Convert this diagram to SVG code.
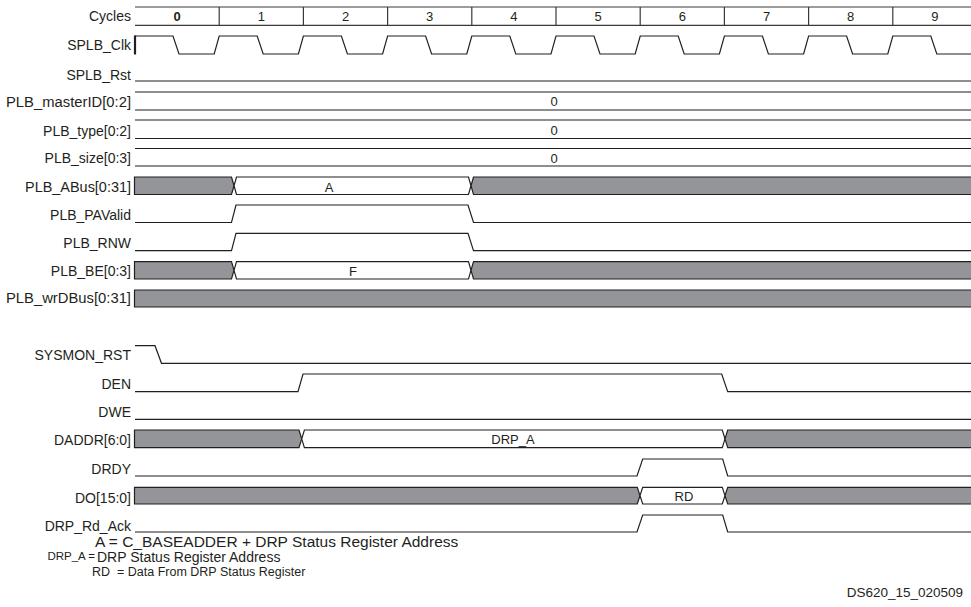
<svg xmlns="http://www.w3.org/2000/svg" width="971" height="607" viewBox="0 0 971 607">
<style>
  .lbl{font-family:"Liberation Sans",Arial,Helvetica,sans-serif;font-size:14px;fill:#231f20;text-anchor:end}
  .num{font-family:"Liberation Sans",Arial,Helvetica,sans-serif;font-size:13px;fill:#231f20;text-anchor:middle}
  .val{font-family:"Liberation Sans",Arial,Helvetica,sans-serif;font-size:13px;fill:#231f20;text-anchor:middle}
  .leg{font-family:"Liberation Sans",Arial,Helvetica,sans-serif;fill:#231f20}
  .w{fill:none;stroke:#231f20;stroke-width:1.2;stroke-linejoin:miter}
  .g{fill:#939598;stroke:#231f20;stroke-width:1.2}
  .b{fill:#ffffff;stroke:#231f20;stroke-width:1.2}
  .hdr{fill:none;stroke:#3a3a3a;stroke-width:1.2}
</style>
<rect width="971" height="607" fill="#ffffff"/>

<g id="cycles">
  <text class="lbl" x="131" y="21">Cycles</text>
  <path class="hdr" d="M135,7 H971 M135,25.3 H971 M219.2,7 V25.3 M303.4,7 V25.3 M387.6,7 V25.3 M471.8,7 V25.3 M556,7 V25.3 M640.2,7 V25.3 M724.4,7 V25.3 M808.6,7 V25.3 M892.8,7 V25.3"/>
  <text class="num" x="177.1" y="20.5" font-weight="bold">0</text>
  <text class="num" x="261.3" y="20.5">1</text>
  <text class="num" x="345.5" y="20.5">2</text>
  <text class="num" x="429.7" y="20.5">3</text>
  <text class="num" x="513.9" y="20.5">4</text>
  <text class="num" x="598.1" y="20.5">5</text>
  <text class="num" x="682.3" y="20.5">6</text>
  <text class="num" x="766.5" y="20.5">7</text>
  <text class="num" x="850.7" y="20.5">8</text>
  <text class="num" x="934.9" y="20.5">9</text>
</g>

<g id="SPLB_Clk">
  <text class="lbl" x="131" y="50">SPLB_Clk</text>
  <line x1="135" y1="35.5" x2="135" y2="54.5" stroke="#231f20" stroke-width="2.2"/>
  <path class="w" d="M135,36 H173 L179,54 H214.2 L219.2,36 H257.2 L263.2,54 H298.4 L303.4,36 H341.4 L347.4,54 H382.6 L387.6,36 H425.6 L431.6,54 H466.8 L471.8,36 H509.8 L515.8,54 H551 L556,36 H594 L600,54 H635.2 L640.2,36 H678.2 L684.2,54 H719.4 L724.4,36 H762.4 L768.4,54 H803.6 L808.6,36 H846.6 L852.6,54 H887.8 L892.8,36 H930.8 L936.8,54 H975"/>
</g>

<g id="SPLB_Rst">
  <text class="lbl" x="131" y="80">SPLB_Rst</text>
  <path class="w" d="M135,81 H975"/>
</g>

<g id="PLB_masterID">
  <text class="lbl" x="131" y="107" textLength="125" lengthAdjust="spacingAndGlyphs">PLB_masterID[0:2]</text>
  <path class="w" d="M135,92 H975 M135,110 H975"/>
  <text class="val" x="554" y="106">0</text>
</g>

<g id="PLB_type">
  <text class="lbl" x="131" y="135.5">PLB_type[0:2]</text>
  <path class="w" d="M135,120 H975 M135,138.5 H975"/>
  <text class="val" x="554" y="135">0</text>
</g>

<g id="PLB_size">
  <text class="lbl" x="131" y="163">PLB_size[0:3]</text>
  <path class="w" d="M135,148.5 H975 M135,166 H975"/>
  <text class="val" x="554" y="163">0</text>
</g>

<g id="PLB_ABus">
  <text class="lbl" x="131" y="191.5" textLength="106" lengthAdjust="spacingAndGlyphs">PLB_ABus[0:31]</text>
  <path class="g" d="M134.5,177 H231.5 L234,185.75 L231.5,194.5 H134.5 Z"/>
  <path class="b" d="M234,185.75 L236.5,177 H468.5 L471,185.75 L468.5,194.5 H236.5 Z"/>
  <path class="g" d="M471,185.75 L473.5,177 H976 V194.5 H473.5 Z"/>
  <text class="val" x="329" y="191.5">A</text>
</g>

<g id="PLB_PAValid">
  <text class="lbl" x="131" y="219.5">PLB_PAValid</text>
  <path class="w" d="M135,222.5 H231.5 L236,205 H468 L473.5,222.5 H975"/>
</g>

<g id="PLB_RNW">
  <text class="lbl" x="131" y="247.5">PLB_RNW</text>
  <path class="w" d="M135,250.7 H231.5 L236,233.3 H468 L473.5,250.7 H975"/>
</g>

<g id="PLB_BE">
  <text class="lbl" x="131" y="275.5">PLB_BE[0:3]</text>
  <path class="g" d="M134.5,261.7 H231.5 L234,270.35 L231.5,279 H134.5 Z"/>
  <path class="b" d="M234,270.35 L236.5,261.7 H468.5 L471,270.35 L468.5,279 H236.5 Z"/>
  <path class="g" d="M471,270.35 L473.5,261.7 H976 V279 H473.5 Z"/>
  <text class="val" x="353" y="275.5">F</text>
</g>

<g id="PLB_wrDBus">
  <text class="lbl" x="131" y="303" textLength="125" lengthAdjust="spacingAndGlyphs">PLB_wrDBus[0:31]</text>
  <path class="g" d="M134.5,290 H976 V307 H134.5 Z"/>
</g>

<g id="SYSMON_RST">
  <text class="lbl" x="131" y="360">SYSMON_RST</text>
  <path class="w" d="M135,345.7 H155 L161.5,363.3 H975"/>
</g>

<g id="DEN">
  <text class="lbl" x="131" y="388.5">DEN</text>
  <path class="w" d="M135,391.7 H298 L303,374 H721.7 L727.7,391.7 H975"/>
</g>

<g id="DWE">
  <text class="lbl" x="131" y="417">DWE</text>
  <path class="w" d="M135,419.3 H975"/>
</g>

<g id="DADDR">
  <text class="lbl" x="131" y="445">DADDR[6:0]</text>
  <path class="g" d="M134.5,430 H299 L301.7,438.85 L299,447.7 H134.5 Z"/>
  <path class="b" d="M301.7,438.85 L304.4,430 H722.3 L725,438.85 L722.3,447.7 H304.4 Z"/>
  <path class="g" d="M725,438.85 L727.7,430 H976 V447.7 H727.7 Z"/>
  <text class="val" x="513" y="443.5">DRP_A</text>
</g>

<g id="DRDY">
  <text class="lbl" x="131" y="474">DRDY</text>
  <path class="w" d="M135,476 H637 L642.7,459 H722.7 L727.7,476 H975"/>
</g>

<g id="DO">
  <text class="lbl" x="131" y="502.5">DO[15:0]</text>
  <path class="g" d="M134.5,487.3 H637.3 L640,495.65 L637.3,504 H134.5 Z"/>
  <path class="b" d="M640,495.65 L642.7,487.3 H722.3 L725,495.65 L722.3,504 H642.7 Z"/>
  <path class="g" d="M725,495.65 L727.7,487.3 H976 V504 H727.7 Z"/>
  <text class="val" x="684" y="500.5">RD</text>
</g>

<g id="DRP_Rd_Ack">
  <text class="lbl" x="131" y="530.5">DRP_Rd_Ack</text>
  <path class="w" d="M135,532 H637 L642.7,515 H722.7 L727.7,532 H975"/>
</g>

<g id="legend">
  <text class="leg" x="95" y="546.5" font-size="15.5">A = C_BASEADDER + DRP Status Register Address</text>
  <text class="leg" x="95" y="560" font-size="11.5" text-anchor="end">DRP_A =</text>
  <text class="leg" x="97" y="561.5" font-size="14">DRP Status Register Address</text>
  <text class="leg" x="92" y="575.5" font-size="12.5" xml:space="preserve">RD  = Data From DRP Status Register</text>
  <text class="leg" x="963" y="597" font-size="13.5" text-anchor="end">DS620_15_020509</text>
</g>
</svg>
